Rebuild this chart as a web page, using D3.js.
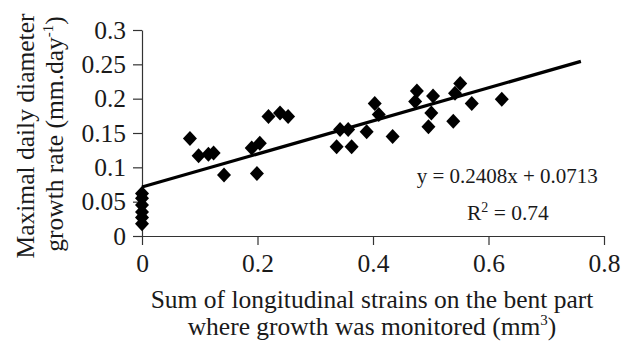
<!DOCTYPE html>
<html>
<head>
<meta charset="utf-8">
<script src="https://cdn.jsdelivr.net/npm/d3@7"></script>
<style>
  body { margin: 0; background: #fff; }
  svg { display: block; }
  text { font-family: "Liberation Serif", "Times New Roman", serif; fill: #1a1a1a; }
</style>
</head>
<body>
<div id="chart"></div>
<script>
// strain sum (mm3) vs max daily diameter growth rate (mm/day)
var strainX = [0, 0, 0, 0, 0, 0,
  0.083, 0.098, 0.115, 0.124, 0.142, 0.190, 0.199, 0.204, 0.219, 0.239, 0.253,
  0.337, 0.343, 0.357, 0.363, 0.389, 0.403, 0.410, 0.434,
  0.473, 0.476, 0.496, 0.501, 0.504, 0.539, 0.542, 0.551, 0.571, 0.623];
var growthY = [0.062, 0.055, 0.045, 0.035, 0.027, 0.018,
  0.142, 0.117, 0.119, 0.121, 0.089, 0.128, 0.091, 0.135, 0.174, 0.179, 0.174,
  0.130, 0.155, 0.155, 0.130, 0.152, 0.193, 0.177, 0.145,
  0.196, 0.211, 0.159, 0.179, 0.204, 0.167, 0.208, 0.222, 0.193, 0.199];

var slope = 0.2408, intercept = 0.0713;
var fitRange = [0, 0.76];

var xTicks = [0, 0.2, 0.4, 0.6, 0.8];
var xTickLabels = ["0", "0.2", "0.4", "0.6", "0.8"];
var yTicks = [0, 0.05, 0.1, 0.15, 0.2, 0.25, 0.3];
var yTickLabels = ["0", "0.05", "0.1", "0.15", "0.2", "0.25", "0.3"];

var svgWidth = 622, svgHeight = 345;
var margin = { top: 30, right: 18, bottom: 109, left: 142 };
var width = svgWidth - margin.left - margin.right;
var height = svgHeight - margin.top - margin.bottom;

var svg = d3.select("#chart")
  .append("svg")
  .attr("width", svgWidth)
  .attr("height", svgHeight);

var chartGroup = svg.append("g")
  .attr("transform", `translate(${margin.left}, ${margin.top})`);

var xScale = d3.scaleLinear().domain([0, 0.8]).range([0, width]);
var yScale = d3.scaleLinear().domain([0, 0.3]).range([height, 0]);

var xAxis = d3.axisBottom(xScale)
  .tickValues(xTicks)
  .tickFormat((d, i) => xTickLabels[i])
  .tickSize(9)
  .tickSizeOuter(0);
var yAxis = d3.axisLeft(yScale)
  .tickValues(yTicks)
  .tickFormat((d, i) => yTickLabels[i])
  .tickSize(9)
  .tickSizeOuter(0);

var gx = chartGroup.append("g")
  .attr("transform", `translate(0, ${height})`)
  .call(xAxis);
gx.selectAll("text")
  .attr("dy", null)
  .attr("y", 36)
  .attr("font-size", "25.5px");

var gy = chartGroup.append("g").call(yAxis);
gy.selectAll("text")
  .attr("x", -16)
  .attr("dy", "0.32em")
  .attr("font-size", "25.5px");

[gx, gy].forEach(g => {
  g.selectAll("path, line").attr("stroke", "#333").attr("stroke-width", 1.2);
  g.selectAll("text").style("font-family", "'Liberation Serif', serif").attr("fill", "#1a1a1a");
});

// trend line
var line = d3.line()
  .x(d => xScale(d))
  .y(d => yScale(slope * d + intercept));
chartGroup.append("path")
  .datum(fitRange)
  .attr("d", line)
  .attr("fill", "none")
  .attr("stroke", "#000")
  .attr("stroke-width", 3.2);

// diamonds
var points = strainX.map((x, i) => ({ x: x, y: growthY[i] }));
chartGroup.selectAll("path.pt")
  .data(points)
  .enter()
  .append("path")
  .attr("class", "pt")
  .attr("transform", d => `translate(${xScale(d.x)}, ${yScale(d.y)})`)
  .attr("d", "M0,-7.5L7,0L0,7.5L-7,0Z")
  .attr("fill", "#000");

// equation text
chartGroup.append("text")
  .attr("x", 416.7 - margin.left)
  .attr("y", 182.5 - margin.top)
  .attr("font-size", "21px")
  .text("y = 0.2408x + 0.0713");

var r2 = chartGroup.append("text")
  .attr("x", 467 - margin.left)
  .attr("y", 220 - margin.top)
  .attr("font-size", "21.5px");
r2.append("tspan").text("R");
r2.append("tspan").attr("font-size", "14px").attr("dy", "-8").text("2");
r2.append("tspan").attr("dy", "8").text(" = 0.74");

// x title
var xt = svg.append("text")
  .attr("text-anchor", "middle")
  .attr("font-size", "25.5px");
xt.append("tspan").attr("x", 372).attr("y", 307.5)
  .text("Sum of longitudinal strains on the bent part");
xt.append("tspan").attr("x", 372).attr("y", 335)
  .text("where growth was monitored (mm");
xt.append("tspan").attr("font-size", "15px").attr("dy", "-10").text("3");
xt.append("tspan").attr("dy", "10").text(")");

// y title
var yt = svg.append("text")
  .attr("transform", "rotate(-90)")
  .attr("text-anchor", "middle")
  .attr("font-size", "25.5px");
yt.append("tspan").attr("x", -136).attr("y", 34)
  .text("Maximal daily diameter");
yt.append("tspan").attr("x", -134).attr("y", 63)
  .text("growth rate (mm.day");
yt.append("tspan").attr("font-size", "15px").attr("dy", "-10").text("-1");
yt.append("tspan").attr("dy", "10").text(")");
</script>
</body>
</html>
